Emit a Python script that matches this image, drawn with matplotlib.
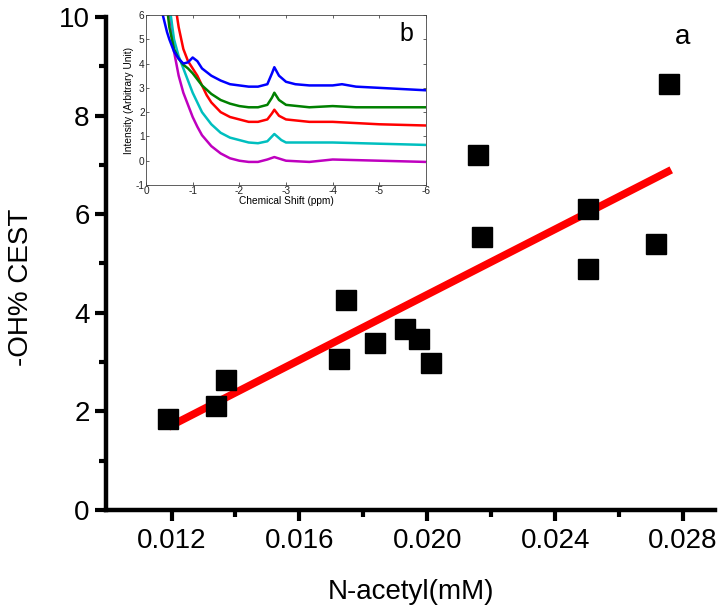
import matplotlib
matplotlib.use("Agg")
import matplotlib.pyplot as plt
from matplotlib.ticker import MultipleLocator, FixedLocator

plt.rcParams['font.family'] = ['Liberation Sans', 'DejaVu Sans']

# ---- main scatter data ----
nacetyl = [0.0119, 0.01338, 0.01369, 0.01723, 0.01745, 0.01836, 0.0193, 0.01974,
           0.02011, 0.02158, 0.02171, 0.02503, 0.02503, 0.02716, 0.02757]
cest = [1.85, 2.11, 2.64, 3.06, 4.26, 3.39, 3.67, 3.47,
        2.98, 7.20, 5.54, 6.11, 4.89, 5.40, 8.64]
fit_x = [0.0119, 0.02763]
fit_y = [1.68, 6.90]
x_ticks = [0.012, 0.016, 0.020, 0.024, 0.028]
x_ticklabels = ['0.012', '0.016', '0.020', '0.024', '0.028']

# ---- inset spectra data (ppm, intensity) ----
blue_x = [-0.36, -0.45, -0.5, -0.6, -0.7, -0.8, -0.9, -1.0, -1.1, -1.2, -1.4, -1.6, -1.8, -2.0,
          -2.2, -2.4, -2.6, -2.7, -2.75, -2.85, -3.0, -3.2, -3.5, -4.0, -4.2, -4.5, -5.0, -5.5, -6.0]
blue_y = [6.0, 5.3, 5.0, 4.5, 4.2, 4.0, 4.05, 4.25, 4.1, 3.8, 3.5, 3.3, 3.15, 3.1,
          3.05, 3.05, 3.15, 3.6, 3.85, 3.5, 3.25, 3.15, 3.1, 3.1, 3.15, 3.05, 3.0, 2.95, 2.9]
green_x = [-0.47, -0.5, -0.6, -0.7, -0.8, -0.9, -1.0, -1.1, -1.2, -1.4, -1.6, -1.8, -2.0,
           -2.2, -2.4, -2.6, -2.7, -2.75, -2.85, -3.0, -3.5, -4.0, -4.5, -5.0, -6.0]
green_y = [6.0, 5.5, 4.6, 4.2, 3.95, 3.8, 3.6, 3.35, 3.1, 2.75, 2.5, 2.35, 2.25,
           2.2, 2.2, 2.3, 2.6, 2.8, 2.5, 2.3, 2.2, 2.25, 2.2, 2.2, 2.2]
red_x = [-0.66, -0.7, -0.8, -0.9, -1.0, -1.1, -1.2, -1.3, -1.4, -1.6, -1.8, -2.0,
         -2.2, -2.4, -2.6, -2.7, -2.75, -2.85, -3.0, -3.5, -4.0, -4.5, -5.0, -6.0]
red_y = [6.0, 5.5, 4.6, 4.1, 3.8, 3.5, 3.1, 2.7, 2.4, 2.0, 1.8, 1.7,
         1.6, 1.6, 1.7, 1.95, 2.1, 1.85, 1.7, 1.6, 1.6, 1.55, 1.5, 1.45]
cyan_x = [-0.53, -0.6, -0.7, -0.8, -0.9, -1.0, -1.1, -1.2, -1.4, -1.6, -1.8, -2.0,
          -2.2, -2.4, -2.6, -2.75, -2.9, -3.0, -3.5, -4.0, -5.0, -6.0]
cyan_y = [6.0, 5.0, 4.3, 3.8, 3.3, 2.8, 2.4, 2.0, 1.5, 1.15, 0.95, 0.85,
          0.75, 0.72, 0.8, 1.1, 0.85, 0.75, 0.75, 0.75, 0.7, 0.65]
mag_x = [-0.52, -0.6, -0.7, -0.8, -0.9, -1.0, -1.1, -1.2, -1.4, -1.6, -1.8, -2.0,
         -2.2, -2.4, -2.6, -2.75, -3.0, -3.5, -4.0, -5.0, -6.0]
mag_y = [6.0, 4.5, 3.5, 2.8, 2.3, 1.8, 1.4, 1.05, 0.6, 0.3, 0.1, 0.0,
         -0.05, -0.05, 0.05, 0.15, 0.0, -0.05, 0.05, 0.0, -0.05]
inset_xticks = [0, -1, -2, -3, -4, -5, -6]
inset_yticks = [-1, 0, 1, 2, 3, 4, 5, 6]

fig = plt.figure(figsize=(7.23, 6.12), dpi=100)
ax = fig.add_axes([0.147, 0.167, 0.842, 0.805])

ax.plot(fit_x, fit_y, color='#ff0000', lw=5.5, solid_capstyle='butt', zorder=2)
ax.plot(nacetyl, cest, 's', color='black', ms=14, zorder=3)

ax.set_xlim(0.00996, 0.0290)
ax.set_ylim(0, 10)
ax.xaxis.set_major_locator(FixedLocator(x_ticks))
ax.set_xticklabels(x_ticklabels)
ax.xaxis.set_minor_locator(FixedLocator([0.014, 0.018, 0.022, 0.026]))
ax.yaxis.set_major_locator(MultipleLocator(2))
ax.yaxis.set_minor_locator(MultipleLocator(1))
for s in ['top', 'right']:
    ax.spines[s].set_visible(False)
for s in ['left', 'bottom']:
    ax.spines[s].set_linewidth(3.2)
ax.tick_params(which='major', direction='out', length=8, width=3, labelsize=20, pad=5)
ax.tick_params(axis='y', which='major', pad=4)
ax.tick_params(which='minor', direction='out', length=5, width=3)
ax.set_xlabel('N-acetyl(mM)', fontsize=20, labelpad=18)
ax.set_ylabel('-OH% CEST', fontsize=20)
ax.yaxis.set_label_coords(-0.118, 0.452)
fig.text(683 / 723, 1 - 37 / 612, 'a', fontsize=20, ha='center', va='center')

# ---- inset ----
ia = fig.add_axes([146 / 723, 1 - 185 / 612, 280 / 723, 170 / 612])
for xs, ys, c in [(mag_x, mag_y, '#bf00bf'), (cyan_x, cyan_y, '#00bfbf'),
                  (red_x, red_y, '#ff0000'), (green_x, green_y, '#008000'),
                  (blue_x, blue_y, '#0000ff')]:
    ia.plot(xs, ys, color=c, lw=1.8)
ia.set_xlim(0, -6)
ia.set_ylim(-1, 6)
ia.set_xticks(inset_xticks)
ia.set_xticklabels([str(v) for v in inset_xticks])
ia.set_yticks(inset_yticks)
ia.set_yticklabels([str(v) for v in inset_yticks])
for s in ia.spines.values():
    s.set_linewidth(0.6)
    s.set_color('#444444')
ia.tick_params(direction='in', length=2, width=0.5, labelsize=7.3, pad=1,
               top=True, right=True, colors='#222222')
ia.set_xlabel('Chemical Shift (ppm)', fontsize=7.3, labelpad=0)
ia.set_ylabel('Intensity (Arbitrary Unit)', fontsize=7.3, labelpad=1)
ia.text(0.93, 0.89, 'b', transform=ia.transAxes, fontsize=18, ha='center', va='center')

fig.savefig('out.png', dpi=100)
